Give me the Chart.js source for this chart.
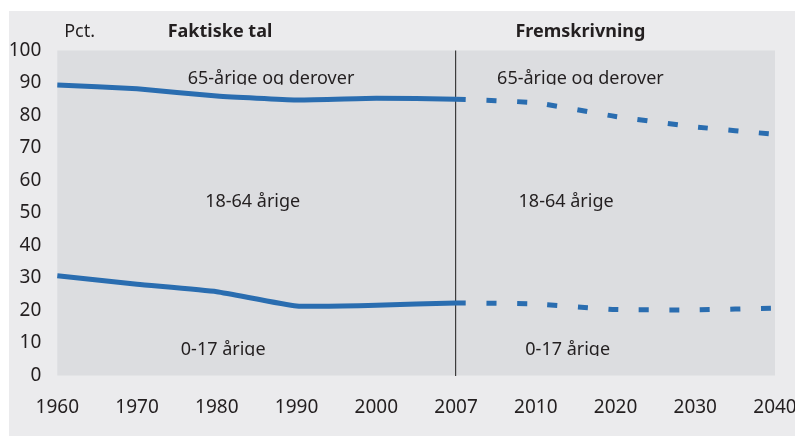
<!DOCTYPE html>
<html>
<head>
<meta charset="utf-8">
<script src="https://cdn.jsdelivr.net/npm/chart.js@4/dist/chart.umd.min.js"></script>
<style>
  html, body { margin: 0; padding: 0; background: #ffffff; }
  #wrap { position: absolute; left: 9px; top: 11px; width: 786px; height: 425px; background: #ebebed; }
</style>
</head>
<body>
<div id="wrap"><canvas id="chart"></canvas></div>
<script>
// years on the x axis (category axis, equally spaced)
const years = ['1960', '1970', '1980', '1990', '2000', '2007', '2010', '2020', '2030', '2040'];

// boundary 18-64 / 65+ (cumulative share in pct.)
const upperLine = [89.4, 88.2, 86.0, 84.8, 85.3, 85.0, 83.9, 79.7, 76.5, 74.2];
// boundary 0-17 / 18-64
const lowerLine = [30.7, 28.1, 25.8, 21.4, 21.6, 22.3, 22.0, 20.3, 20.2, 20.7];

// first index of the projection (dashed part)
const forecastStart = 5;

// area labels: x in category units, y in pct. (baseline), clip = cut at baseline
const areaLabels = [
    { text: '65-årige og derover', x: 2.68, y: 89.8, clip: true },
    { text: '65-årige og derover', x: 6.56, y: 89.8, clip: true },
    { text: '18-64 årige', x: 2.45, y: 52.0, clip: false },
    { text: '18-64 årige', x: 6.38, y: 52.0, clip: false },
    { text: '0-17 årige', x: 2.08, y: 6.3, clip: true },
    { text: '0-17 årige', x: 6.40, y: 6.3, clip: true }
];

// header texts above the plot
const headers = [
    { text: 'Pct.', x: 0.28, bold: false },
    { text: 'Faktiske tal', x: 2.04, bold: true },
    { text: 'Fremskrivning', x: 6.56, bold: true }
];

const FONT = '"Noto Sans", "Open Sans", sans-serif';
const TEXT = '#231f20';
const BLUE = '#2a6db0';

const plotBackground = {
    id: 'plotBackground',
    beforeDraw(chart) {
        const { ctx, chartArea: a } = chart;
        ctx.save();
        ctx.fillStyle = '#dcdde0';
        ctx.fillRect(a.left, a.top, a.right - a.left, a.bottom - a.top);
        ctx.restore();
    }
};

const textLabels = {
    id: 'textLabels',
    beforeDatasetsDraw(chart) {
        const { ctx, chartArea: a } = chart;
        const xs = chart.scales.x, ys = chart.scales.y;
        ctx.save();
        ctx.fillStyle = TEXT;
        ctx.textAlign = 'center';
        ctx.textBaseline = 'alphabetic';
        ctx.font = '18px ' + FONT;
        areaLabels.forEach(l => {
            const px = xs.getPixelForValue(l.x);
            const py = ys.getPixelForValue(l.y);
            ctx.save();
            if (l.clip) {
                ctx.beginPath();
                ctx.rect(px - 150, py - 40, 300, 41);
                ctx.clip();
            }
            ctx.fillText(l.text, px, py);
            ctx.restore();
        });
        headers.forEach(h => {
            ctx.font = (h.bold ? 'bold ' : '') + '18px ' + FONT;
            ctx.fillText(h.text, xs.getPixelForValue(h.x), a.top - 14);
        });
        ctx.restore();
    }
};

const dashFrom = ctx => ctx.p0DataIndex >= forecastStart ? [10, 20.5] : undefined;

new Chart(document.getElementById('chart'), {
    type: 'line',
    data: {
        labels: years,
        datasets: [
            { label: 'upper', data: upperLine },
            { label: 'lower', data: lowerLine }
        ].map(d => Object.assign(d, {
            borderColor: BLUE,
            borderWidth: 5,
            borderCapStyle: 'butt',
            pointRadius: 0,
            tension: 0.15,
            fill: false,
            segment: { borderDash: dashFrom }
        }))
    },
    options: {
        responsive: true,
        maintainAspectRatio: false,
        animation: false,
        layout: { padding: { top: 39.5, right: 20, left: 0, bottom: 0 } },
        plugins: {
            legend: { display: false },
            tooltip: { enabled: false }
        },
        scales: {
            x: {
                offset: false,
                border: { display: false },
                grid: {
                    drawTicks: false,
                    tickLength: 0,
                    lineWidth: 1.2,
                    color: ctx => ctx.index === forecastStart ? '#3c3c3c' : 'rgba(0,0,0,0)'
                },
                ticks: {
                    padding: 21,
                    maxRotation: 0,
                    autoSkip: false,
                    color: TEXT,
                    font: { family: FONT, size: 19 }
                },
                afterFit: s => { s.height = 60.5; s.paddingLeft = 0; s.paddingRight = 0; }
            },
            y: {
                min: 0,
                max: 100,
                border: { display: false },
                grid: { display: false, drawTicks: false, tickLength: 0 },
                ticks: {
                    stepSize: 10,
                    padding: 16,
                    color: TEXT,
                    font: { family: FONT, size: 19 }
                },
                afterFit: s => { s.width = 48.3; s.paddingTop = 0; s.paddingBottom = 0; }
            }
        }
    },
    plugins: [plotBackground, textLabels]
});
</script>
</body>
</html>
